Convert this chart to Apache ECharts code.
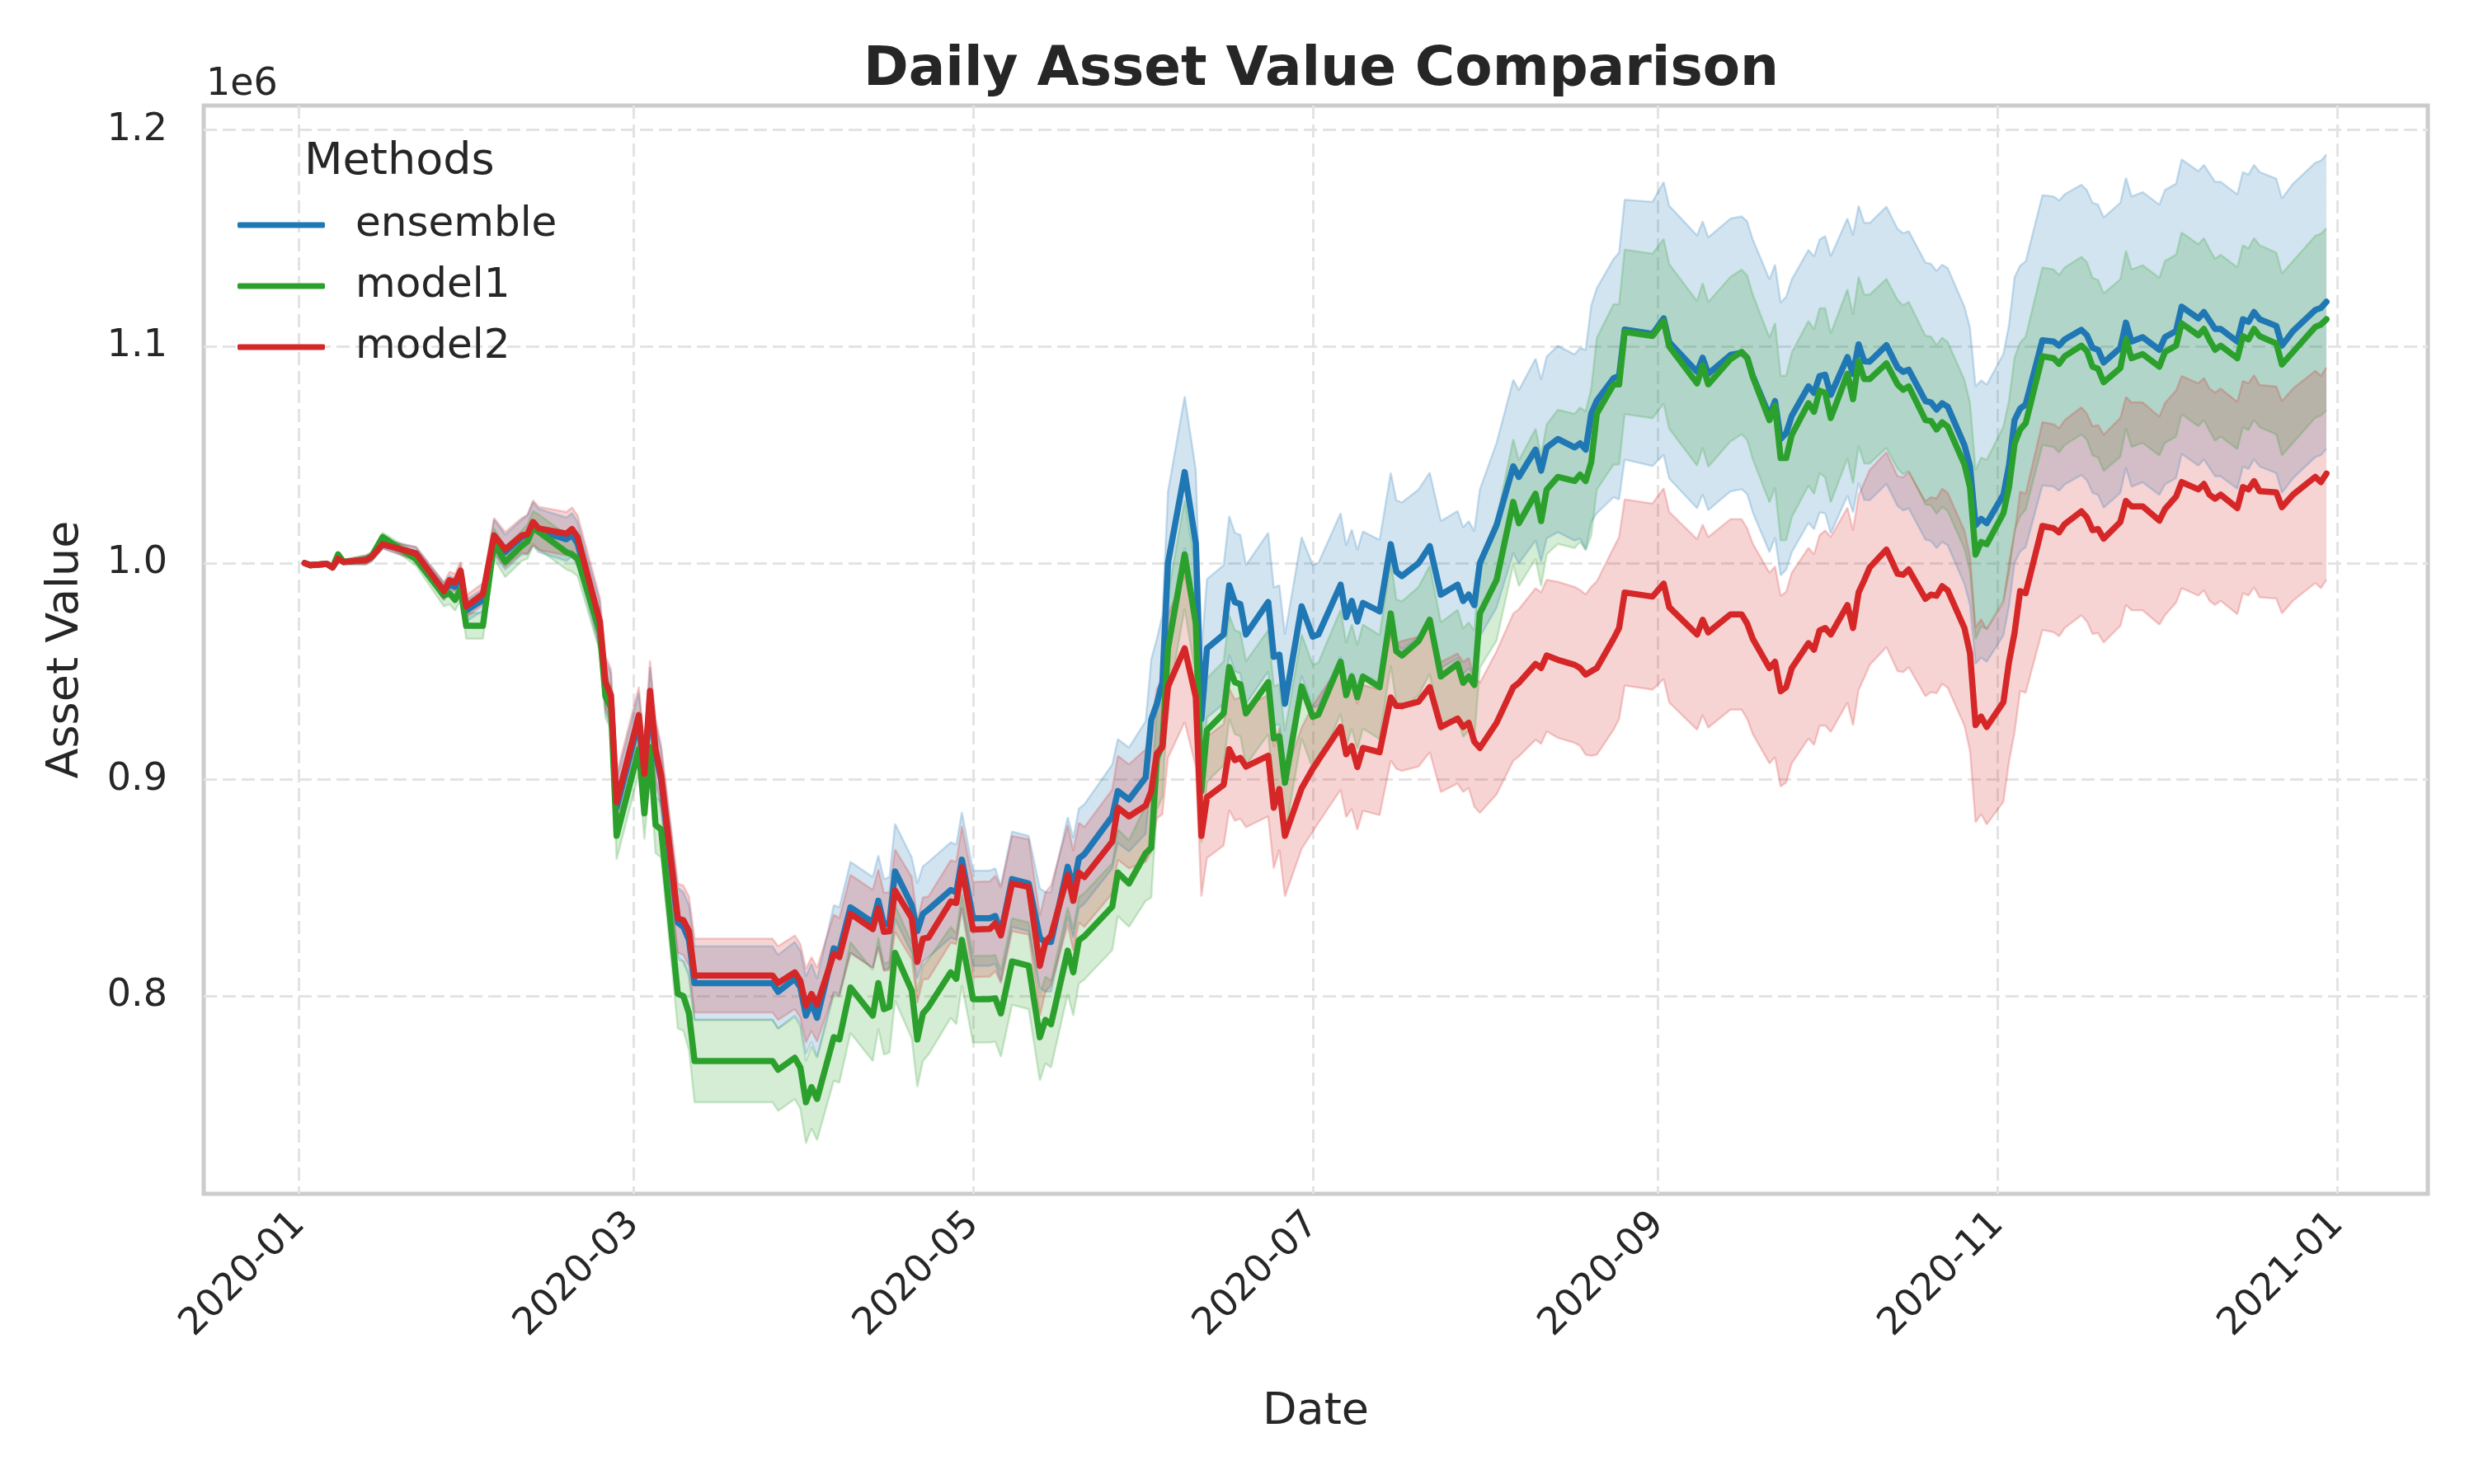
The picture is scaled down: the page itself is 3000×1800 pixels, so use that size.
<!DOCTYPE html>
<html>
<head>
<meta charset="utf-8">
<script src="https://cdn.jsdelivr.net/npm/echarts@6/dist/echarts.min.js"></script>
<style>html,body{margin:0;padding:0;background:#fff;}#chart{width:3000px;height:1800px;}</style>
</head>
<body>
<div id="chart"></div>
<script>
const dates = [
'2020-01-02','2020-01-03','2020-01-06','2020-01-07','2020-01-08','2020-01-09','2020-01-13','2020-01-14','2020-01-16','2020-01-22','2020-01-27','2020-01-28','2020-01-29','2020-01-30','2020-01-31',
'2020-02-03','2020-02-05','2020-02-07','2020-02-10','2020-02-11','2020-02-12','2020-02-13','2020-02-18','2020-02-19','2020-02-20','2020-02-24','2020-02-25','2020-02-26','2020-02-27',
'2020-03-02','2020-03-03','2020-03-04','2020-03-05','2020-03-06','2020-03-09','2020-03-10','2020-03-11','2020-03-12','2020-03-26','2020-03-27','2020-03-30','2020-03-31',
'2020-04-01','2020-04-02','2020-04-03','2020-04-06','2020-04-07','2020-04-09','2020-04-13','2020-04-14','2020-04-15','2020-04-16','2020-04-17','2020-04-20','2020-04-21','2020-04-22','2020-04-23','2020-04-27','2020-04-28','2020-04-29',
'2020-05-01','2020-05-04','2020-05-05','2020-05-06','2020-05-08','2020-05-11','2020-05-13','2020-05-14','2020-05-15','2020-05-18','2020-05-19','2020-05-20','2020-05-21','2020-05-26','2020-05-27','2020-05-29',
'2020-06-01','2020-06-02','2020-06-03','2020-06-04','2020-06-05','2020-06-08','2020-06-10','2020-06-11','2020-06-12','2020-06-15','2020-06-16','2020-06-17','2020-06-18','2020-06-19','2020-06-23','2020-06-24','2020-06-25','2020-06-26','2020-06-29',
'2020-07-01','2020-07-02','2020-07-06','2020-07-07','2020-07-08','2020-07-09','2020-07-10','2020-07-13','2020-07-15','2020-07-16','2020-07-17','2020-07-20','2020-07-22','2020-07-24','2020-07-27','2020-07-28','2020-07-29','2020-07-30','2020-07-31',
'2020-08-03','2020-08-06','2020-08-07','2020-08-10','2020-08-11','2020-08-12','2020-08-14','2020-08-17','2020-08-18','2020-08-19','2020-08-20','2020-08-21','2020-08-24','2020-08-25','2020-08-26','2020-08-31',
'2020-09-02','2020-09-03','2020-09-08','2020-09-09','2020-09-10','2020-09-14','2020-09-16','2020-09-17','2020-09-18','2020-09-21','2020-09-22','2020-09-23','2020-09-24','2020-09-25','2020-09-28','2020-09-29','2020-09-30',
'2020-10-01','2020-10-02','2020-10-05','2020-10-06','2020-10-07','2020-10-08','2020-10-09','2020-10-12','2020-10-14','2020-10-15','2020-10-16','2020-10-19','2020-10-20','2020-10-21','2020-10-22','2020-10-23','2020-10-26','2020-10-27','2020-10-28','2020-10-29','2020-10-30',
'2020-11-02','2020-11-03','2020-11-04','2020-11-05','2020-11-06','2020-11-09','2020-11-11','2020-11-12','2020-11-13','2020-11-16','2020-11-17','2020-11-18','2020-11-19','2020-11-20','2020-11-23','2020-11-24','2020-11-25','2020-11-27','2020-11-30',
'2020-12-01','2020-12-03','2020-12-04','2020-12-07','2020-12-08','2020-12-09','2020-12-10','2020-12-11','2020-12-14','2020-12-15','2020-12-16','2020-12-17','2020-12-18','2020-12-21','2020-12-22','2020-12-24','2020-12-28','2020-12-29','2020-12-30'
];
// asset values in units of 1e6
const ensemble = [
1.000,0.999,0.9996,0.998,1.002,1.0005,1.0014,1.0028,1.0087,1.0044,0.987,0.990,0.989,0.995,0.978,
0.983,1.012,1.005,1.012,1.013,1.018,1.015,1.011,1.013,1.009,0.971,0.943,0.937,0.887,
0.927,0.900,0.938,0.912,0.900,0.834,0.832,0.826,0.806,0.806,0.802,0.808,0.804,
0.791,0.797,0.790,0.822,0.821,0.841,0.834,0.844,0.833,0.834,0.8576,0.842,0.830,0.838,0.840,0.849,0.848,0.863,
0.836,0.836,0.837,0.829,0.854,0.852,0.8268,0.825,0.825,0.8597,0.850,0.8636,0.8656,0.883,0.8947,0.8908,
0.901,0.9276,0.935,0.945,1.000,1.042,1.009,0.928,0.9606,0.967,0.9897,0.982,0.981,0.967,0.982,0.9567,0.9577,0.935,0.980,
0.966,0.967,0.990,0.975,0.9825,0.973,0.9816,0.9777,1.0087,0.996,0.994,1.000,1.0078,0.9854,0.990,0.9825,0.9854,0.9806,1.000,
1.0175,1.0447,1.0398,1.0524,1.0427,1.0534,1.0573,1.0534,1.0553,1.0524,1.069,1.075,1.0854,1.0864,1.1078,1.1058,
1.113,1.102,1.0883,1.0948,1.0874,1.0961,1.0971,1.0948,1.0864,1.068,1.0748,1.0573,1.060,1.068,1.0816,1.0786,1.0864,
1.087,1.0777,1.0951,1.0874,1.101,1.0932,1.093,1.1006,1.0903,1.0883,1.0893,1.0748,1.0742,1.0709,1.0738,1.0722,1.0544,1.0447,1.0175,1.0204,1.0184,
1.0316,1.045,1.066,1.0713,1.0733,1.1029,1.1023,1.1004,1.1033,1.1077,1.1052,1.0994,1.0985,1.0926,1.0994,1.111,1.1023,1.1043,1.0985,
1.1043,1.1072,1.1184,1.113,1.1159,1.112,1.1081,1.1081,1.1023,1.1126,1.1114,1.1159,1.1126,1.1095,1.1004,1.1072,1.1169,1.1178,1.1207
];
const model1 = [
1.000,0.999,0.9996,0.998,1.004,1.0005,1.0016,1.0030,1.0120,1.0017,0.985,0.986,0.983,0.988,0.971,
0.971,1.009,1.0005,1.008,1.010,1.016,1.0145,1.005,1.004,1.002,0.968,0.9385,0.933,0.874,
0.914,0.8844,0.915,0.879,0.877,0.801,0.800,0.792,0.770,0.770,0.766,0.7715,0.767,
0.751,0.758,0.7525,0.781,0.780,0.804,0.791,0.806,0.794,0.795,0.820,0.8025,0.780,0.792,0.795,0.811,0.808,0.826,
0.7986,0.7986,0.799,0.792,0.816,0.814,0.781,0.789,0.787,0.821,0.811,0.8258,0.8277,0.8413,0.857,0.852,
0.866,0.8685,0.910,0.916,0.9606,1.004,0.972,0.8947,0.9228,0.9306,0.952,0.945,0.944,0.9306,0.945,0.919,0.920,0.8985,0.943,
0.929,0.930,0.9544,0.939,0.9476,0.938,0.9476,0.9427,0.9767,0.9592,0.9573,0.964,0.9738,0.9476,0.9534,0.9447,0.9476,0.9437,0.9767,
0.9922,1.0282,1.0184,1.032,1.0194,1.034,1.0398,1.0379,1.0408,1.0379,1.0466,1.069,1.0825,1.0825,1.1068,1.1049,
1.1117,1.100,1.083,1.0913,1.0825,1.0942,1.0975,1.0948,1.086,1.066,1.0728,1.0485,1.0485,1.0592,1.0738,1.0699,1.0796,
1.0786,1.067,1.0874,1.0757,1.0932,1.085,1.085,1.0922,1.0825,1.080,1.0816,1.066,1.0656,1.0617,1.065,1.063,1.0456,1.035,1.0039,1.0097,1.0087,
1.023,1.035,1.055,1.0617,1.0646,1.0955,1.0946,1.092,1.0955,1.1004,1.0979,1.0907,1.0897,1.0835,1.0901,1.1033,1.0946,1.0965,1.0907,
1.0975,1.1004,1.1107,1.1052,1.1081,1.103,1.0985,1.1004,1.0946,1.1048,1.1033,1.1081,1.1048,1.1014,1.0917,1.0975,1.1091,1.1101,1.1126
];
const model2 = [
1.000,0.999,0.9996,0.998,1.002,1.0005,1.0014,1.0028,1.0087,1.0044,0.987,0.992,0.991,0.9965,0.980,
0.9857,1.0128,1.0063,1.0128,1.0133,1.019,1.016,1.0136,1.0157,1.012,0.973,0.945,0.939,0.8896,
0.9298,0.9027,0.941,0.914,0.9018,0.836,0.835,0.830,0.8095,0.8095,0.806,0.811,0.807,
0.7956,0.801,0.796,0.8196,0.818,0.838,0.831,0.8405,0.8297,0.830,0.8487,0.836,0.8158,0.8266,0.827,0.8437,0.843,0.8595,
0.8307,0.831,0.8336,0.828,0.852,0.8504,0.814,0.825,0.828,0.856,0.844,0.857,0.855,0.8714,0.887,0.883,
0.888,0.8947,0.912,0.915,0.943,0.9606,0.938,0.874,0.8918,0.8976,0.914,0.909,0.910,0.906,0.911,0.887,0.8956,0.874,0.896,
0.905,0.909,0.9243,0.9117,0.9155,0.9058,0.9146,0.9126,0.9379,0.934,0.934,0.936,0.9427,0.9243,0.9282,0.9243,0.9262,0.9175,0.9146,
0.9262,0.9427,0.9447,0.9534,0.9515,0.9573,0.9553,0.953,0.9515,0.9485,0.950,0.9515,0.965,0.970,0.9864,0.9845,
0.9905,0.9796,0.967,0.9738,0.968,0.9763,0.9763,0.972,0.965,0.9515,0.9544,0.9408,0.9427,0.9515,0.963,0.960,0.9689,
0.970,0.967,0.9806,0.970,0.9864,0.992,0.998,1.0062,0.9951,0.9946,0.997,0.9835,0.9854,0.9849,0.9893,0.9874,0.970,0.9583,0.9252,0.9291,0.9243,
0.9358,0.9542,0.9677,0.987,0.9861,1.0171,1.0161,1.0142,1.018,1.0239,1.021,1.0152,1.0157,1.0113,1.019,1.0287,1.0262,1.0262,1.0196,
1.0249,1.0307,1.0374,1.034,1.0365,1.0316,1.0297,1.0316,1.0254,1.0351,1.034,1.0378,1.0332,1.0326,1.0258,1.0316,1.0398,1.0374,1.0413
];
// half-width of the shaded band around each line (units of 1e6)
const ensembleSpread = [
0,.001,.001,.001,.001,.001,.002,.002,.002,.003,.004,.004,.004,.004,.005,
.005,.008,.008,.008,.009,.010,.010,.010,.010,.010,.011,.012,.012,.013,
.013,.013,.014,.014,.014,.016,.016,.016,.017,.017,.017,.017,.017,
.018,.018,.018,.020,.020,.021,.021,.021,.021,.021,.022,.022,.022,.022,.022,.022,.022,.022,
.022,.022,.022,.022,.022,.022,.023,.023,.023,.023,.023,.023,.023,.024,.024,.024,
.026,.028,.030,.031,.033,.035,.034,.032,.032,.032,.032,.032,.032,.032,.032,.032,.032,.032,.032,
.033,.033,.033,.033,.033,.033,.033,.033,.033,.033,.034,.034,.034,.034,.034,.034,.034,.034,.034,
.038,.040,.040,.042,.042,.042,.043,.043,.044,.046,.050,.052,.055,.057,.060,.061,
.063,.063,.063,.063,.063,.063,.063,.063,.063,.063,.063,.063,.063,.063,.063,.063,.063,
.064,.064,.064,.064,.064,.064,.064,.064,.064,.064,.064,.064,.064,.064,.064,.064,.064,.064,.064,.064,.064,
.065,.065,.066,.066,.066,.067,.067,.067,.067,.067,.067,.067,.067,.067,.067,.067,.067,.067,.067,
.068,.068,.068,.068,.068,.068,.068,.068,.068,.068,.068,.068,.068,.068,.068,.068,.068,.068,.068
];
const model1Spread = [
0,.001,.001,.001,.001,.001,.002,.002,.002,.003,.005,.005,.005,.005,.006,
.006,.007,.007,.007,.008,.008,.008,.008,.008,.008,.009,.010,.010,.011,
.011,.012,.013,.013,.013,.016,.016,.017,.019,.019,.019,.019,.019,
.019,.019,.019,.020,.020,.021,.021,.021,.021,.021,.022,.022,.022,.022,.022,.021,.021,.021,
.020,.020,.020,.020,.020,.020,.020,.020,.020,.020,.020,.020,.020,.020,.020,.020,
.022,.023,.024,.024,.025,.025,.025,.024,.024,.024,.024,.024,.024,.024,.024,.024,.024,.024,.024,
.024,.024,.024,.024,.024,.024,.024,.024,.024,.024,.025,.025,.025,.025,.025,.025,.025,.025,.025,
.028,.029,.029,.030,.030,.030,.031,.031,.031,.032,.034,.035,.037,.037,.038,.038,
.038,.038,.038,.038,.038,.038,.038,.038,.038,.038,.038,.038,.038,.038,.038,.038,.038,
.039,.039,.039,.039,.039,.039,.039,.039,.039,.039,.039,.039,.039,.039,.039,.039,.039,.039,.039,.039,.039,
.040,.040,.040,.040,.040,.041,.041,.041,.041,.041,.041,.041,.041,.041,.041,.041,.041,.041,.041,
.042,.042,.042,.042,.042,.042,.042,.042,.042,.042,.042,.042,.042,.042,.042,.042,.042,.042,.042
];
const model2Spread = [
0,.001,.001,.001,.001,.001,.002,.002,.002,.003,.004,.004,.004,.004,.005,
.005,.008,.008,.008,.009,.010,.010,.010,.010,.010,.011,.012,.012,.013,
.013,.013,.014,.014,.014,.016,.016,.016,.017,.017,.017,.017,.017,
.017,.017,.017,.018,.018,.018,.018,.018,.018,.018,.019,.019,.019,.019,.019,.019,.019,.019,
.022,.022,.022,.022,.022,.022,.023,.023,.023,.023,.023,.023,.023,.024,.024,.024,
.026,.028,.030,.031,.033,.034,.032,.028,.028,.028,.028,.028,.028,.028,.028,.028,.028,.028,.028,
.029,.029,.029,.029,.029,.029,.029,.029,.029,.029,.030,.030,.030,.030,.030,.030,.030,.030,.030,
.033,.034,.034,.035,.035,.035,.036,.036,.036,.037,.039,.040,.042,.042,.043,.043,
.044,.044,.044,.044,.044,.044,.044,.044,.044,.044,.044,.044,.044,.044,.044,.044,.044,
.045,.045,.045,.045,.045,.045,.045,.045,.045,.045,.045,.045,.045,.045,.045,.045,.045,.045,.045,.045,.045,
.046,.046,.046,.046,.046,.048,.048,.048,.048,.048,.048,.048,.048,.048,.048,.048,.048,.048,.048,
.049,.049,.049,.049,.049,.049,.049,.049,.049,.049,.049,.049,.049,.049,.049,.049,.049,.049,.049
];
const methodNames = ['ensemble', 'model1', 'model2'];
const methodColors = ['#1f77b4', '#2ca02c', '#d62728'];
const xTickLabels = ['2020-01-01','2020-03-01','2020-05-01','2020-07-01','2020-09-01','2020-11-01','2021-01-01'];
const yTickValues = [0.8, 0.9, 1.0, 1.1, 1.2];

function ts(s) { const p = s.split('-').map(Number); return new Date(p[0], p[1] - 1, p[2]).getTime(); }
const DAY = 86400000;
const x0 = ts('2020-01-01');
const xMin = x0 - 17.13 * DAY;
const xMax = x0 + 382.2 * DAY;
const FONT = 'DejaVu Sans';
const TXT = '#262626';

const valueSets = [ensemble, model1, model2];
const spreadSets = [ensembleSpread, model1Spread, model2Spread];
const times = dates.map(ts);
const xTickValues = xTickLabels.map(ts);

const series = [];
methodNames.forEach((name, k) => {
  const c = methodColors[k];
  const v = valueSets[k], s = spreadSets[k];
  series.push({
    name: name + ' lower', type: 'line', stack: 'band' + k, z: 1, xAxisIndex: 0,
    data: times.map((t, i) => [t, v[i] - s[i]]),
    symbol: 'none', silent: true,
    lineStyle: { color: c, width: 2.5, opacity: 0.22 },
    emphasis: { disabled: true }
  });
  series.push({
    name: name + ' upper', type: 'line', stack: 'band' + k, z: 1, xAxisIndex: 0,
    data: times.map((t, i) => [t, 2 * s[i]]),
    symbol: 'none', silent: true,
    lineStyle: { color: c, width: 2.5, opacity: 0.22 },
    areaStyle: { color: c, opacity: 0.2 },
    emphasis: { disabled: true }
  });
});
methodNames.forEach((name, k) => {
  const c = methodColors[k];
  const v = valueSets[k];
  series.push({
    name: name, type: 'line', z: 3, color: c, xAxisIndex: 0,
    data: times.map((t, i) => [t, v[i]]),
    symbol: 'none', showSymbol: false,
    lineStyle: { color: c, width: 7.5, join: 'round', cap: 'round' },
    itemStyle: { color: c },
    emphasis: { disabled: true }
  });
});

const chart = echarts.init(document.getElementById('chart'), null, { renderer: 'canvas' });
chart.setOption({
  animation: false,
  backgroundColor: '#ffffff',
  title: {
    text: 'Daily Asset Value Comparison',
    left: 1597, top: 48, textAlign: 'center',
    textStyle: { fontFamily: FONT, fontSize: 66, fontWeight: 'bold', color: TXT }
  },
  grid: {
    left: 247, right: 56, top: 128, bottom: 352,
    show: true, borderColor: '#cccccc', borderWidth: 5, backgroundColor: 'transparent',
    containLabel: false, outerBoundsMode: 'none'
  },
  legend: {
    data: methodNames,
    orient: 'vertical', left: 283, top: 243,
    icon: 'roundRect', itemWidth: 106, itemHeight: 7, itemGap: 24,
    textStyle: { fontFamily: FONT, fontSize: 50, color: TXT, lineHeight: 50, padding: [0, 0, 0, 32] },
    selectedMode: false
  },
  graphic: [
    { type: 'text', left: 369, top: 170, style: { text: 'Methods', fontFamily: FONT, fontSize: 54, fill: TXT } },
    { type: 'text', left: 250, top: 80, style: { text: '1e6', fontFamily: FONT, fontSize: 46, fill: TXT } }
  ],
  xAxis: [
    { type: 'time', min: xMin, max: xMax, show: false, position: 'bottom' },
    {
      type: 'value', min: xMin, max: xMax, position: 'bottom',
      name: 'Date', nameLocation: 'middle', nameGap: 238,
      nameTextStyle: { fontFamily: FONT, fontSize: 54, color: TXT },
      axisLine: { show: false }, axisTick: { show: false, customValues: xTickValues },
      axisLabel: {
        customValues: xTickValues, rotate: 45, margin: 30,
        fontFamily: FONT, fontSize: 46, color: TXT,
        formatter: function (val) { const d = new Date(val); return d.getFullYear() + '-' + String(d.getMonth() + 1).padStart(2, '0'); }
      },
      splitLine: { show: true, lineStyle: { color: '#e3e3e3', width: 3, type: [16, 7] } }
    }
  ],
  yAxis: {
    type: 'value', min: 0.7087, max: 1.2113,
    name: 'Asset Value', nameLocation: 'middle', nameGap: 140, nameRotate: 90,
    nameTextStyle: { fontFamily: FONT, fontSize: 54, color: TXT },
    axisLine: { show: false }, axisTick: { show: false, customValues: yTickValues },
    axisLabel: {
      customValues: yTickValues, margin: 44,
      fontFamily: FONT, fontSize: 46, color: TXT,
      formatter: function (v) { return v.toFixed(1); }
    },
    splitLine: { show: true, lineStyle: { color: '#e3e3e3', width: 3, type: [16, 7] } }
  },
  series: series
});
</script>
</body>
</html>
